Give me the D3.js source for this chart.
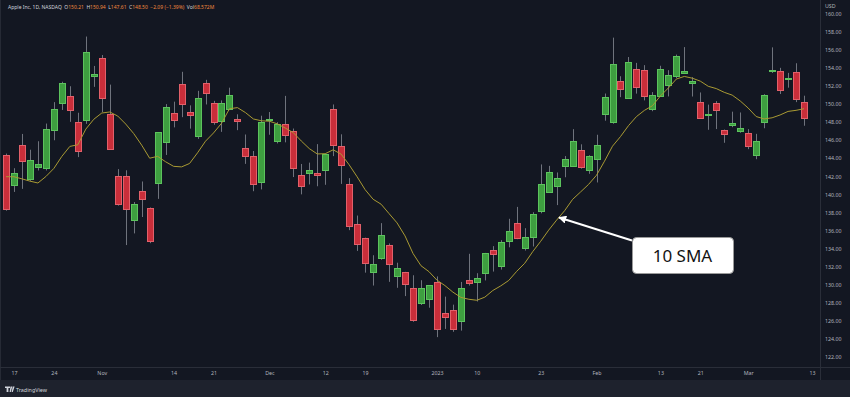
<!DOCTYPE html>
<html><head><meta charset="utf-8">
<script src="https://cdn.jsdelivr.net/npm/d3@7"></script>
<style>
html,body{margin:0;padding:0;background:#131722;}
svg{display:block;}
text{font-family:"Noto Sans",sans-serif;}
</style></head>
<body><svg id="c" width="850" height="397"></svg>
<script>
// ---- data (Apple Inc, daily) ----
const dates = ["Oct 14","Oct 17","Oct 18","Oct 19","Oct 20","Oct 21","Oct 24","Oct 25","Oct 26","Oct 27","Oct 28","Oct 31",
"Nov 1","Nov 2","Nov 3","Nov 4","Nov 7","Nov 8","Nov 9","Nov 10","Nov 11","Nov 14","Nov 15","Nov 16","Nov 17","Nov 18","Nov 21","Nov 22","Nov 23","Nov 25","Nov 28","Nov 29","Nov 30",
"Dec 1","Dec 2","Dec 5","Dec 6","Dec 7","Dec 8","Dec 9","Dec 12","Dec 13","Dec 14","Dec 15","Dec 16","Dec 19","Dec 20","Dec 21","Dec 22","Dec 23","Dec 27","Dec 28","Dec 29","Dec 30",
"Jan 3","Jan 4","Jan 5","Jan 6","Jan 9","Jan 10","Jan 11","Jan 12","Jan 13","Jan 17","Jan 18","Jan 19","Jan 20","Jan 23","Jan 24","Jan 25","Jan 26","Jan 27","Jan 30","Jan 31",
"Feb 1","Feb 2","Feb 3","Feb 6","Feb 7","Feb 8","Feb 9","Feb 10","Feb 13","Feb 14","Feb 15","Feb 16","Feb 17","Feb 21","Feb 22","Feb 23","Feb 24","Feb 27","Feb 28",
"Mar 1","Mar 2","Mar 3","Mar 6","Mar 7","Mar 8","Mar 9","Mar 10"];
const opens = [144.31,141.07,145.49,141.69,143.02,142.87,147.19,150.09,150.96,148.07,148.20,153.16,
155.08,148.95,142.06,142.09,137.11,140.41,138.50,141.24,145.82,148.97,152.22,149.13,146.43,152.31,150.16,148.13,149.45,148.31,145.14,144.29,141.40,
148.21,145.96,147.77,147.07,142.19,142.36,142.34,142.70,149.50,145.35,141.11,136.69,135.11,131.39,132.98,134.35,130.92,131.38,129.67,127.99,128.41,
130.28,126.89,127.13,126.01,130.47,130.26,131.25,133.88,132.03,134.83,136.82,134.08,135.28,138.12,140.31,140.89,143.17,143.16,144.96,142.70,
143.97,148.90,148.03,152.57,150.64,153.88,153.78,149.46,150.95,152.12,153.11,153.51,152.35,150.20,148.87,150.09,147.11,147.71,147.05,
146.83,144.38,148.04,153.79,153.70,152.81,153.56,150.21];
const highs = [144.52,142.90,146.70,144.95,145.89,147.85,150.23,152.49,151.99,149.05,157.50,154.24,
155.45,152.17,142.80,142.67,139.15,141.43,138.55,146.87,150.01,150.28,153.59,149.87,151.48,152.70,150.37,150.42,151.83,148.88,146.64,144.81,148.72,
149.13,148.00,150.92,147.30,143.37,143.52,145.57,144.50,149.97,146.66,141.80,137.65,135.20,133.25,136.81,134.56,132.42,131.41,131.03,130.48,129.95,
130.90,128.66,127.77,130.29,133.41,131.26,133.51,134.26,134.92,137.29,138.61,136.25,138.02,143.32,143.16,142.43,144.25,147.23,145.55,144.34,
146.61,151.18,157.38,153.10,155.23,154.58,154.33,151.34,154.26,153.77,155.50,156.33,153.00,151.30,149.95,150.34,147.19,149.17,149.08,
147.23,146.71,151.11,156.30,154.03,153.47,154.54,150.94];
const lows = [138.19,140.27,140.61,141.50,142.65,142.65,146.00,149.36,148.04,144.13,147.82,151.92,
149.13,145.00,138.75,134.38,135.67,137.49,134.59,139.50,144.37,147.43,148.56,147.29,146.15,149.97,147.72,146.93,149.34,147.12,143.38,140.35,140.55,
146.61,145.65,145.77,141.92,140.00,141.10,140.90,141.06,144.24,141.16,136.03,133.73,131.32,129.89,132.75,130.30,129.64,128.72,125.87,127.73,127.43,
124.17,125.08,124.76,124.89,129.89,128.12,130.46,131.44,131.66,134.13,135.03,133.77,134.22,137.90,140.30,138.81,141.90,143.08,142.85,142.28,
141.32,148.17,147.83,150.78,150.64,151.17,150.42,149.22,150.92,150.86,152.88,153.35,150.85,148.41,147.16,147.24,145.72,147.45,146.83,
145.01,143.90,147.33,153.46,151.13,151.83,150.23,147.61];
const closes = [138.38,142.41,143.75,143.86,143.39,147.27,149.45,152.34,149.35,144.80,155.74,153.34,
150.65,145.03,138.88,138.38,138.92,139.50,134.87,146.87,149.70,148.28,150.04,148.79,150.72,151.29,148.01,150.18,151.07,148.11,144.22,141.17,148.03,
148.31,147.81,146.63,142.91,140.94,142.65,142.16,144.49,145.47,143.21,136.50,134.51,132.37,132.30,135.45,132.23,131.86,130.03,126.04,129.61,129.93,
125.07,126.36,125.02,129.62,130.15,130.73,133.49,133.41,134.76,135.94,135.21,135.27,137.87,141.11,142.53,141.86,143.96,145.93,143.00,144.29,
145.43,150.82,154.50,151.73,154.65,151.92,150.87,151.01,153.85,153.20,155.33,153.71,152.55,148.48,148.91,149.40,146.71,147.92,147.41,
145.31,145.91,151.03,153.83,151.60,152.87,150.59,148.50];
// closes of the 9 sessions before Oct 14 (needed for the 10-period SMA)
const priorCloses = [142.45,146.10,146.40,145.43,140.09,140.42,138.98,138.34,142.99];
const firstIndex = -1; // Oct 14 sits one bar left of the "17" tick
const timeTickIdx = [0,5,11,20,25,32,39,44,53,58,66,73,81,86,92,100];
const timeTickLabels = ["17","24","Nov","14","21","Dec","12","19","2023","10","23","Feb","13","21","Mar","13"];
const priceTicks = [122,124,126,128,130,132,134,136,138,140,142,144,146,148,150,152,154,156,158,160];
const smaPeriod = 10;

// ---- layout ----
const W = 850, H = 397;
const paneR = 820, paneB = 367, axisB = 380;
const svg = d3.select("#c");
const x = d3.scaleLinear().domain([0,100]).range([14,812]);
const y = d3.scaleLinear().domain([122,160]).range([356.7,14]);

svg.append("rect").attr("width",W).attr("height",H).attr("fill","#131722");
svg.append("rect").attr("x",0).attr("y",axisB).attr("width",W).attr("height",H-axisB).attr("fill","#1e222d");
svg.append("rect").attr("x",0).attr("y",0).attr("width",1).attr("height",axisB).attr("fill","#262a35");

const candles = dates.map((d,i)=>({i:i+firstIndex,date:d,o:opens[i],h:highs[i],l:lows[i],c:closes[i]}));
const allCloses = priorCloses.concat(closes);
const sma = candles.map((d,k)=>{
  const end = k + priorCloses.length; // index in allCloses
  const win = allCloses.slice(end-smaPeriod+1,end+1);
  return {i:d.i, v:d3.mean(win)};
});

svg.append("clipPath").attr("id","pane").append("rect").attr("x",0).attr("y",0).attr("width",paneR).attr("height",paneB);
const g = svg.append("g").attr("clip-path","url(#pane)");

const cx = d=>Math.round(x(d.i));
g.selectAll("line.wick").data(candles).join("line").attr("class","wick")
  .attr("x1",d=>cx(d)+0.5).attr("x2",d=>cx(d)+0.5)
  .attr("y1",d=>y(d.h)).attr("y2",d=>y(d.l))
  .attr("stroke","#6f737d").attr("stroke-width",1);
g.selectAll("rect.body").data(candles).join("rect").attr("class","body")
  .attr("x",d=>cx(d)-2.5).attr("width",6)
  .attr("y",d=>Math.round(y(Math.max(d.o,d.c)))+0.5)
  .attr("height",d=>Math.max(1,Math.round(y(Math.min(d.o,d.c)))-Math.round(y(Math.max(d.o,d.c)))))
  .attr("fill",d=>d.c>=d.o?"#3e9f40":"#c92e3a")
  .attr("stroke",d=>d.c>=d.o?"#5cc35d":"#e2606a").attr("stroke-width",1);

g.append("path").datum(sma)
  .attr("d",d3.line().x(d=>x(d.i)).y(d=>y(d.v)).curve(d3.curveLinear))
  .attr("fill","none").attr("stroke","#a99a33").attr("stroke-width",1);

// separators
svg.append("line").attr("x1",paneR+0.5).attr("x2",paneR+0.5).attr("y1",0).attr("y2",axisB).attr("stroke","#2a2e39");
svg.append("line").attr("x1",0).attr("x2",W).attr("y1",paneB+0.5).attr("y2",paneB+0.5).attr("stroke","#2a2e39");

// price axis
const ya = svg.append("g").attr("transform",`translate(${paneR},0)`)
  .call(d3.axisRight(y).tickValues(priceTicks).tickFormat(d=>d.toFixed(2)).tickSize(0).tickPadding(5));
ya.select(".domain").remove();
ya.selectAll("text").attr("fill","#b2b5be").attr("font-size",5.3).attr("font-family","Noto Sans, sans-serif");
svg.append("text").attr("x",825).attr("y",7.5).attr("fill","#b2b5be").attr("font-size",5.3).text("USD");

// time axis
const xa = svg.append("g").attr("transform",`translate(0,${paneB+4})`)
  .call(d3.axisBottom(x).tickValues(timeTickIdx).tickFormat((d,k)=>timeTickLabels[k]).tickSize(0).tickPadding(0));
xa.select(".domain").remove();
xa.selectAll("text").attr("fill","#b2b5be").attr("font-size",5.3).attr("font-family","Noto Sans, sans-serif");

// header legend
const hdr = svg.append("text").attr("x",8).attr("y",9).attr("font-size",5.0).attr("fill","#d1d4dc");
const last = candles[candles.length-1];
const prevC = candles[candles.length-2].c;
const chg = last.c - prevC;
const orange = "#f0883e";
hdr.append("tspan").text("Apple Inc, 1D, NASDAQ");
[["O",last.o],["H",last.h],["L",last.l],["C",last.c]].forEach(([k,v])=>{
  hdr.append("tspan").attr("dx",2.5).text(k);
  hdr.append("tspan").attr("fill",orange).text(v.toFixed(2));
});
hdr.append("tspan").attr("dx",2.5).attr("fill",orange).text("\u2212"+Math.abs(chg).toFixed(2)+" (\u2212"+Math.abs(chg/prevC*100).toFixed(2)+"%)");
hdr.append("tspan").attr("dx",2.5).text("Vol");
hdr.append("tspan").attr("fill",orange).text("68.572M");

// TradingView logo
const lg = svg.append("g").attr("fill","#d1d4dc");
lg.append("path").attr("d","M5,386.5h5v1.5h-1.6v4h-1.8v-4h-1.6z M10.5,386.5h1.8l-1.5,5.5h-1.2z M12.8,386.5h1.8l-1.8,5.5h-1.2z");
lg.append("text").attr("x",16).attr("y",391.5).attr("font-size",5.4).attr("fill","#d1d4dc").text("TradingView");

// annotation
const defs = svg.append("defs");
defs.append("marker").attr("id","ah").attr("viewBox","0 0 10 10").attr("refX",9).attr("refY",5)
  .attr("markerWidth",4).attr("markerHeight",4).attr("orient","auto")
  .append("path").attr("d","M0,0L10,5L0,10z").attr("fill","#ffffff");
svg.append("line").attr("x1",632).attr("y1",240.5).attr("x2",559).attr("y2",217.5)
  .attr("stroke","#ffffff").attr("stroke-width",2).attr("marker-end","url(#ah)");
svg.append("rect").attr("x",632.5).attr("y",237.5).attr("width",101).attr("height",36).attr("rx",4)
  .attr("fill","#ffffff").attr("stroke","#9a9a9a").attr("stroke-width",1);
svg.append("text").attr("x",682.5).attr("y",262).attr("text-anchor","middle").attr("font-size",17)
  .attr("fill","#131313").text("10 SMA");
</script></body></html>
